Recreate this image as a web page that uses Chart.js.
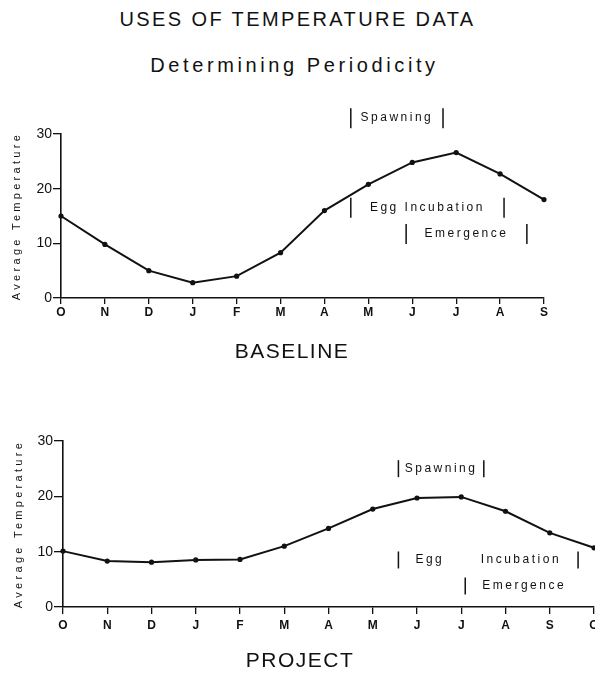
<!DOCTYPE html>
<html>
<head>
<meta charset="utf-8">
<script src="https://cdn.jsdelivr.net/npm/chart.js@4.4.0/dist/chart.umd.min.js"></script>
<style>
  html, body { margin: 0; padding: 0; background: #fff; }
  body {
    width: 595px; height: 673px; position: relative; overflow: hidden;
    font-family: "Liberation Sans", Arial, sans-serif; color: #111;
  }
  .title { position: absolute; left: 0; width: 595px; text-align: center; font-size: 20px; line-height: 24px; }
  #title { top: 7px; letter-spacing: 2.4px; }
  #subtitle { top: 53px; letter-spacing: 3.6px; left: -3px; }
  #baseline-wrap { position: absolute; left: 0; top: 90px; }
  #project-wrap { position: absolute; left: 0; top: 400px; }
</style>
</head>
<body>
<div class="title" id="title">USES OF TEMPERATURE DATA</div>
<div class="title" id="subtitle">Determining Periodicity</div>
<div id="baseline-wrap"><canvas id="baseline-chart" width="595" height="285"></canvas></div>
<div id="project-wrap"><canvas id="project-chart" width="640" height="273"></canvas></div>
<script>
// Baseline (top chart)
const baselineMonths = ["O", "N", "D", "J", "F", "M", "A", "M", "J", "J", "A", "S"];
const baselineTemps = [15, 9.8, 5, 2.8, 4, 8.3, 16, 20.8, 24.8, 26.6, 22.7, 18];
const baselinePeriodNames = ["Spawning", "Egg Incubation", "Emergence"];
const baselinePeriodStart = [6.6, 6.6, 7.86];
const baselinePeriodEnd = [8.7, 10.09, 10.61];

// Project (bottom chart)
const projectMonths = ["O", "N", "D", "J", "F", "M", "A", "M", "J", "J", "A", "S", "O"];
const projectTemps = [10.1, 8.3, 8.1, 8.5, 8.6, 11, 14.2, 17.7, 19.7, 19.9, 17.3, 13.4, 10.7];
const projectPeriodNames = ["Spawning", "Egg Incubation", "Emergence"];
const projectPeriodStart = [7.58, 7.58, 9.09];
const projectPeriodEnd = [9.51, 11.64, null];

const tempTicks = [0, 10, 20, 30];

const FONT = '"Liberation Sans", Arial, sans-serif';
const INK = "#111";
Chart.defaults.font.family = FONT;
Chart.defaults.color = INK;

// Draws the period brackets, the spaced-out axis titles and the panel name
const periodPlugin = {
  id: "periods",
  afterDraw(chart, args, opts) {
    const ctx = chart.ctx;
    const xs = chart.scales.x;
    const ys = chart.scales.y;
    const area = chart.chartArea;

    ctx.save();
    ctx.strokeStyle = INK;
    ctx.fillStyle = INK;
    ctx.lineWidth = 1.5;
    ctx.font = "12px " + FONT;
    ctx.letterSpacing = "2.5px";
    ctx.textBaseline = "middle";

    opts.names.forEach((name, i) => {
      const yc = ys.getPixelForValue(opts.levels[i]);
      const x0 = xs.getPixelForValue(opts.start[i]);
      const x1 = opts.end[i] == null ? null : xs.getPixelForValue(opts.end[i]);

      [x0, x1].forEach((px) => {
        if (px == null) return;
        ctx.beginPath();
        ctx.moveTo(px, yc - opts.barHalf);
        ctx.lineTo(px, yc + opts.barHalf);
        ctx.stroke();
      });

      if (x1 == null) {
        ctx.textAlign = "left";
        ctx.fillText(name, x0 + opts.gap, yc);
      } else if (opts.justify[i]) {
        const words = name.split(" ");
        ctx.textAlign = "left";
        ctx.fillText(words[0], x0 + opts.gap, yc);
        ctx.textAlign = "right";
        ctx.fillText(words[words.length - 1], x1 - opts.gap, yc);
      } else {
        ctx.textAlign = "center";
        ctx.fillText(name, (x0 + x1) / 2, yc);
      }
    });

    // panel name under the x axis
    ctx.font = "21px " + FONT;
    ctx.letterSpacing = "1.5px";
    ctx.textAlign = "center";
    ctx.fillText(opts.panelTitle, opts.panelTitleX, opts.panelTitleY);

    // y axis title, letter spaced like the original
    ctx.font = "11px " + FONT;
    ctx.letterSpacing = "3.3px";
    ctx.translate(opts.axisTitleX, (area.top + area.bottom) / 2);
    ctx.rotate(-Math.PI / 2);
    ctx.fillText("Average Temperature", 0, 0);
    ctx.restore();
  },
};

function makeChart(canvasId, months, temps, periods, cfg) {
  const canvas = document.getElementById(canvasId);
  if (!canvas) return;

  return new Chart(canvas.getContext("2d"), {
    type: "line",
    data: {
      labels: months,
      datasets: [
        {
          data: temps,
          borderColor: INK,
          borderWidth: 2,
          pointRadius: 2.6,
          pointBorderWidth: 0,
          pointBackgroundColor: INK,
          tension: 0,
          clip: false,
        },
      ],
    },
    options: {
      responsive: false,
      animation: false,
      layout: { padding: { top: cfg.padTop, right: cfg.padRight, left: 0, bottom: 0 } },
      plugins: {
        legend: { display: false },
        tooltip: { enabled: false },
        periods: Object.assign({}, periods, {
          levels: cfg.levels,
          barHalf: cfg.barHalf,
          gap: 17,
          justify: cfg.justify,
          axisTitleX: cfg.axisTitleX,
          panelTitle: cfg.title,
          panelTitleX: cfg.titleX,
          panelTitleY: cfg.titleY,
        }),
      },
      scales: {
        x: {
          grid: { drawOnChartArea: false, color: INK, lineWidth: 1.3, tickLength: cfg.xTick },
          border: { color: INK, width: 1.6 },
          ticks: {
            font: { size: 12, weight: "bold" },
            padding: cfg.xTickPad,
            autoSkip: false,
            maxRotation: 0,
          },
          afterFit(scale) {
            scale.height = cfg.xHeight;
          },
        },
        y: {
          min: 0,
          max: 30,
          afterBuildTicks(scale) {
            scale.ticks = tempTicks.map((v) => ({ value: v }));
          },
          grid: { drawOnChartArea: false, color: INK, lineWidth: 1.3, tickLength: cfg.yTick },
          border: { color: INK, width: 1.6 },
          ticks: { font: { size: 14 }, padding: 1 },
          afterFit(scale) {
            scale.width = cfg.yWidth;
          },
        },
      },
    },
    plugins: [periodPlugin],
  });
}

makeChart(
  "baseline-chart",
  baselineMonths,
  baselineTemps,
  { names: baselinePeriodNames, start: baselinePeriodStart, end: baselinePeriodEnd },
  {
    title: "BASELINE", titleX: 292, titleY: 262,
    padTop: 44, padRight: 51, yWidth: 61, xHeight: 77,
    xTick: 6, xTickPad: 1, yTick: 8,
    levels: [32.9, 16.5, 11.7], barHalf: 10,
    justify: [false, false, false],
    axisTitleX: 17,
  }
);

makeChart(
  "project-chart",
  projectMonths,
  projectTemps,
  { names: projectPeriodNames, start: projectPeriodStart, end: projectPeriodEnd },
  {
    title: "PROJECT", titleX: 300, titleY: 261,
    padTop: 41, padRight: 46, yWidth: 63, xHeight: 66,
    xTick: 7, xTickPad: 4, yTick: 9,
    levels: [25, 8.5, 3.8], barHalf: 8.5,
    justify: [false, true, false],
    axisTitleX: 19,
  }
);
</script>
</body>
</html>
